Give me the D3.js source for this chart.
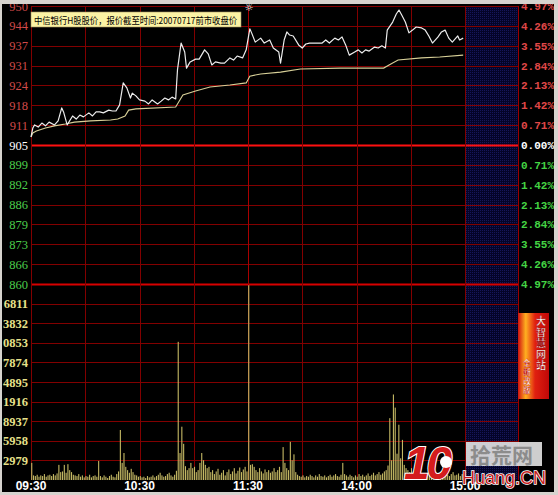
<!DOCTYPE html>
<meta charset="utf-8">
<style>
    body { margin: 0; background: #000; }
    svg { display: block; }
</style>
<body>
<div id="chart-container"></div>
<script src="https://cdnjs.cloudflare.com/ajax/libs/d3/7.8.5/d3.min.js"></script>
<script>
    // price tick labels (left), percent labels (right), volume labels (left, cut off)
    var priceLabels = ["950", "944", "937", "931", "924", "918", "911", "905", "899", "892", "886", "879", "873", "866", "860"];
    var pctLabels = ["4.97%", "4.26%", "3.55%", "2.84%", "2.13%", "1.42%", "0.71%", "0.00%", "0.71%", "1.42%", "2.13%", "2.84%", "3.55%", "4.26%", "4.97%"];
    var volLabels = ["6811", "3832", "0853", "7874", "4895", "1916", "8937", "5958", "2979"];
    var timeLabels = ["09:30", "10:30", "11:30", "14:00", "15:00"];
    var timeLabelMinutes = [0, 60, 120, 180, 240];

    // minute index (0..239) and price of the white price line
    var priceMinutes = [0, 1, 2, 4, 6, 8, 10, 13, 15, 17, 18, 20, 23, 25, 27, 29, 32, 34, 36, 38, 40, 43, 45, 47, 49, 51, 53, 55, 56, 58, 60, 63, 65, 67, 70, 72, 74, 76, 78, 80,
        81, 83, 85, 86, 88, 91, 93, 96, 98, 100, 102, 105, 107, 110, 112, 114, 117, 119,
        121, 122, 124, 127, 129, 132, 134, 137, 138, 140, 141.5, 143, 145, 148, 150, 152, 154, 158, 161, 163, 165, 168, 170, 172, 174, 176, 179, 181, 183, 185, 187, 190, 192, 194, 196,
        197, 200, 202, 203.5, 205, 207, 209, 211, 213, 216, 218, 220, 222, 225, 227, 229, 231, 233, 236, 237, 239];
    var priceValues = [907.6, 910.5, 911.5, 910.8, 912.1, 911.2, 912.4, 911.5, 912.8, 917.0, 915.7, 911.5, 914.4, 913.4, 914.7, 914.1, 915.4, 914.4, 915.7, 915.7, 915.4, 916.3, 916.0, 916.0, 918.0, 925.1, 923.5, 920.2, 921.8, 920.9, 919.6, 919.2, 918.3, 919.6, 918.3, 919.2, 920.2, 919.6, 920.5, 919.9,
        929.3, 938.0, 935.1, 929.9, 931.9, 932.8, 932.8, 935.8, 934.5, 930.9, 931.9, 931.5, 931.5, 933.2, 932.5, 933.8, 933.2, 935.8,
        942.6, 941.3, 938.3, 939.6, 938.0, 939.0, 936.4, 935.1, 931.5, 939.0, 941.6, 940.6, 940.3, 937.4, 936.4, 937.7, 938.0, 938.0, 938.0, 939.0, 938.0, 939.6, 939.0, 940.0, 937.4, 934.1, 935.1, 935.8, 934.8, 935.8, 935.4, 936.7, 936.4, 937.1, 936.4,
        942.2, 944.8, 947.4, 948.7, 947.1, 944.8, 941.3, 942.2, 943.2, 942.9, 942.2, 940.3, 938.0, 939.9, 941.6, 942.2, 939.6, 938.3, 940.3, 939.0, 939.6];

    // average price line (yellow)
    var avgMinutes = [0, 1, 3, 8, 13, 19, 24, 33, 44, 48, 52, 54, 58, 80, 81, 84, 91, 99, 110, 119, 121, 127, 138, 149, 171, 195, 199, 203, 216, 226, 239];
    var avgValues = [907.6, 908.9, 909.5, 910.5, 911.2, 911.8, 912.4, 912.8, 913.1, 913.4, 914.4, 916.3, 916.7, 917.3, 918.3, 921.2, 922.5, 923.8, 924.4, 925.1, 927.3, 928.0, 928.6, 929.6, 929.9, 929.9, 931.2, 932.5, 933.2, 933.5, 934.1];

    // per minute volume, morning 09:30-11:29 and afternoon 13:00-14:59
    var volMorning = [2600, 700, 600, 800, 500, 700, 600, 900, 500, 700, 800, 600, 900, 700, 1000, 2300, 1200, 1300, 2300, 1100,
        2400, 1500, 1200, 800, 700, 600, 900, 500, 700, 400, 600, 500, 800, 400, 600, 700, 500, 2900, 600, 400,
        700, 500, 300, 600, 800, 500, 400, 900, 1300, 7600, 2600, 4100, 2000, 1500, 1100, 1700, 1200, 800, 700, 500,
        600, 400, 500, 300, 600, 400, 500, 700, 400, 600, 800, 1100, 700, 500, 600, 900, 1100, 700, 500, 800,
        1400, 21000, 4100, 8100, 5500, 2100, 1500, 1800, 2600, 1800, 2000, 1200, 1500, 2600, 4100, 3000, 2300, 1800, 2000, 1200,
        1500, 900, 1300, 1700, 800, 1100, 1500, 700, 1200, 1600, 900, 1300, 1800, 1000, 1400, 1900, 1200, 1600, 2000, 1300];
    var volAfternoon = [29600, 2300, 2400, 2000, 1500, 1200, 1800, 1300, 1000, 1600, 1200, 1500, 1100, 1300, 1800, 1200, 1500, 2000, 1200, 5000,
        2600, 1800, 1500, 5800, 3000, 3900, 1200, 800, 600, 500, 700, 400, 600, 500, 800, 600, 400, 700, 500, 900,
        600, 500, 700, 400, 600, 800, 500, 700, 900, 600, 500, 800, 2600, 900, 700, 500, 800, 600, 400, 700,
        500, 900, 600, 800, 500, 700, 1000, 600, 800, 1100, 700, 900, 1200, 800, 1000, 1300, 1500, 2200, 9400, 3000,
        13000, 11000, 4000, 8400, 3300, 6100, 2300, 1800, 1500, 1200, 1800, 1300, 1000, 900, 1200, 800, 1000, 700, 900, 1100,
        800, 600, 900, 700, 1000, 800, 600, 900, 700, 1100, 800, 600, 900, 1200, 700, 800, 1000, 600, 900, 1300];

    var width = 558, height = 495;
    var left = 31, right = 465, panelRight = 518, topY = 6, mid = 284, bottom = 480;
    var volStep = 2979;

    var svg = d3.select("#chart-container").append("svg")
        .attr("width", width).attr("height", height);

    var x = d3.scaleLinear().domain([0, 240]).range([left, right]);
    var y = d3.scaleLinear().domain([860, 950]).range([mid, topY]);
    var yRow = d3.scaleLinear().domain([0, 14]).range([topY, mid]);
    var yv = d3.scaleLinear().domain([0, volStep * 10]).range([bottom, mid]);

    svg.append("rect").attr("width", width).attr("height", height).attr("fill", "#000");

    // blue dotted panel after 15:00
    var defs = svg.append("defs");
    var pat = defs.append("pattern").attr("id", "dots")
        .attr("width", 2).attr("height", 2).attr("patternUnits", "userSpaceOnUse");
    pat.append("rect").attr("width", 2).attr("height", 2).attr("fill", "#040428");
    pat.append("rect").attr("width", 1).attr("height", 1).attr("fill", "#16165a");
    svg.append("rect").attr("x", right).attr("y", topY).attr("width", panelRight - right).attr("height", bottom - topY)
        .attr("fill", "url(#dots)");

    // grid
    var grid = svg.append("g");
    grid.selectAll(".hrow").data(d3.range(15)).enter().append("line")
        .attr("x1", left).attr("x2", panelRight)
        .attr("y1", d => Math.round(yRow(d)) + 0.5).attr("y2", d => Math.round(yRow(d)) + 0.5)
        .attr("stroke", d => d === 7 ? "#ff1010" : (d === 14 ? "#d80000" : "#820000"))
        .attr("stroke-width", d => (d === 7 || d === 14) ? 2 : 1);
    grid.selectAll(".vrow").data(d3.range(1, 10)).enter().append("line")
        .attr("x1", left).attr("x2", panelRight)
        .attr("y1", d => Math.round(yv(d * volStep)) + 0.5).attr("y2", d => Math.round(yv(d * volStep)) + 0.5)
        .attr("stroke", "#820000");
    grid.selectAll(".vline").data(d3.range(0, 241, 30)).enter().append("line")
        .attr("x1", d => Math.round(x(d)) + 0.5).attr("x2", d => Math.round(x(d)) + 0.5)
        .attr("y1", topY).attr("y2", bottom)
        .attr("stroke", d => d === 120 ? "#a80000" : "#820000");
    grid.append("line").attr("x1", panelRight + 0.5).attr("x2", panelRight + 0.5)
        .attr("y1", topY).attr("y2", bottom).attr("stroke", "#9a0000");

    // volume bars
    var vols = volMorning.concat(volAfternoon);
    svg.append("g").selectAll("rect").data(vols).enter().append("rect")
        .attr("x", (d, i) => x(i) + 0.2)
        .attr("width", 1.1)
        .attr("y", d => yv(d))
        .attr("height", d => bottom - yv(d))
        .attr("fill", "#c4b864");

    // average and price lines
    var lineGen = d3.line().x(d => x(d[0])).y(d => y(d[1]));
    svg.append("path").datum(d3.zip(avgMinutes, avgValues))
        .attr("d", lineGen).attr("fill", "none").attr("stroke", "#d8d098").attr("stroke-width", 1.1);
    svg.append("path").datum(d3.zip(priceMinutes, priceValues))
        .attr("d", lineGen).attr("fill", "none").attr("stroke", "#ececec").attr("stroke-width", 1.2)
        .attr("stroke-linejoin", "round");

    // left price labels
    svg.append("g").selectAll("text").data(priceLabels).enter().append("text")
        .attr("x", 28).attr("y", (d, i) => yRow(i) + 4.5)
        .attr("text-anchor", "end")
        .attr("font-family", "Liberation Serif").attr("font-size", 12.5)
        .attr("fill", (d, i) => i < 7 ? "#d24a4a" : (i === 7 ? "#ffffff" : "#4ccc4c"))
        .text(d => d);

    // volume labels
    svg.append("g").selectAll("text").data(volLabels).enter().append("text")
        .attr("x", 28).attr("y", (d, i) => yv((9 - i) * volStep) + 4.5)
        .attr("text-anchor", "end")
        .attr("font-family", "Liberation Serif").attr("font-weight", "bold").attr("font-size", 12.5)
        .attr("fill", "#e6e08a")
        .text(d => d);

    // right percent labels
    svg.append("g").selectAll("text").data(pctLabels).enter().append("text")
        .attr("x", 521).attr("y", (d, i) => yRow(i) + 4)
        .attr("font-family", "Liberation Mono").attr("font-weight", "bold").attr("font-size", 11)
        .attr("fill", (d, i) => i < 7 ? "#e04848" : (i === 7 ? "#ffffff" : "#44d444"))
        .text(d => d);

    // time labels
    svg.append("g").selectAll("text").data(timeLabels).enter().append("text")
        .attr("x", (d, i) => x(timeLabelMinutes[i])).attr("y", 490)
        .attr("text-anchor", "middle")
        .attr("font-family", "Liberation Sans").attr("font-weight", "bold").attr("font-size", 12)
        .attr("fill", "#ffffff")
        .text(d => d);

    // title box
    svg.append("rect").attr("x", 31).attr("y", 12).attr("width", 210).attr("height", 15)
        .attr("fill", "#fbf3a4").attr("stroke", "#a09060").attr("stroke-width", 0.6);
    svg.append("text").attr("x", 34).attr("y", 23.5)
        .attr("font-family", "Noto Sans CJK SC").attr("font-size", 9.5)
        .attr("textLength", 203).attr("lengthAdjust", "spacingAndGlyphs")
        .attr("fill", "#000")
        .text("中信银行H股股价，报价截至时间:20070717前市收盘价");
    svg.append("text").attr("x", 249).attr("y", 11).attr("text-anchor", "middle")
        .attr("font-family", "DejaVu Sans").attr("font-size", 10).attr("fill", "#fff").text("☼");

    // red banner on the right
    var grad = defs.append("linearGradient").attr("id", "bannerGrad").attr("x1", 0).attr("x2", 1);
    grad.append("stop").attr("offset", 0).attr("stop-color", "#d01010");
    grad.append("stop").attr("offset", 0.25).attr("stop-color", "#ffb020");
    grad.append("stop").attr("offset", 0.55).attr("stop-color", "#e02010");
    grad.append("stop").attr("offset", 1).attr("stop-color", "#c00808");
    svg.append("rect").attr("x", 518).attr("y", 313).attr("width", 31).attr("height", 86).attr("fill", "url(#bannerGrad)");
    var banner = svg.append("g").attr("font-family", "Noto Sans CJK SC").attr("font-weight", "bold")
        .attr("text-anchor", "middle");
    banner.selectAll(".big").data(Array.from("大智慧网站")).enter().append("text")
        .attr("x", 541).attr("y", (d, i) => 325 + i * 11)
        .attr("font-size", 10).attr("fill", "#fff").attr("stroke", "#900").attr("stroke-width", 0.4)
        .text(d => d);
    banner.selectAll(".small").data(Array.from("全新改版")).enter().append("text")
        .attr("x", 527).attr("y", (d, i) => 366 + i * 9)
        .attr("font-size", 7.5).attr("fill", "#fff").attr("stroke", "#b00").attr("stroke-width", 0.3)
        .text(d => d);

    // watermark
    var wm = svg.append("g");
    wm.append("rect").attr("x", 466).attr("y", 442).attr("width", 76).attr("height", 24).attr("fill", "#e4e4e4").attr("opacity", 0.9);
    wm.append("text").attr("x", 470).attr("y", 463)
        .attr("font-family", "Noto Sans CJK SC").attr("font-weight", "bold").attr("font-size", 21)
        .attr("fill", "#8c8c8c").text("拾荒网");
    wm.append("text").attr("x", 404).attr("y", 479)
        .attr("font-family", "Liberation Sans").attr("font-weight", "bold").attr("font-style", "italic")
        .attr("font-size", 46).attr("fill", "#d41c1c").attr("stroke", "#fff").attr("stroke-width", 2)
        .attr("paint-order", "stroke").attr("letter-spacing", -3)
        .text("10");
    wm.append("circle").attr("cx", 446).attr("cy", 462).attr("r", 6).attr("fill", "#fff");
    wm.append("text").attr("x", 462).attr("y", 484)
        .attr("font-family", "Liberation Sans").attr("font-size", 18)
        .attr("fill", "#c81e1e").attr("stroke", "#fff").attr("stroke-width", 1.5).attr("paint-order", "stroke")
        .text("Huang.CN");

    // window frame
    svg.append("rect").attr("x", 0).attr("y", 0).attr("width", width).attr("height", 4).attr("fill", "#d6d3ce");
    svg.append("rect").attr("x", 0).attr("y", 0).attr("width", 2).attr("height", height).attr("fill", "#d6d3ce");
    svg.append("rect").attr("x", width - 4).attr("y", 0).attr("width", 4).attr("height", height).attr("fill", "#d6d3ce");
    svg.append("rect").attr("x", 0).attr("y", height - 3).attr("width", width).attr("height", 3).attr("fill", "#d6d3ce");
</script>
</body>
